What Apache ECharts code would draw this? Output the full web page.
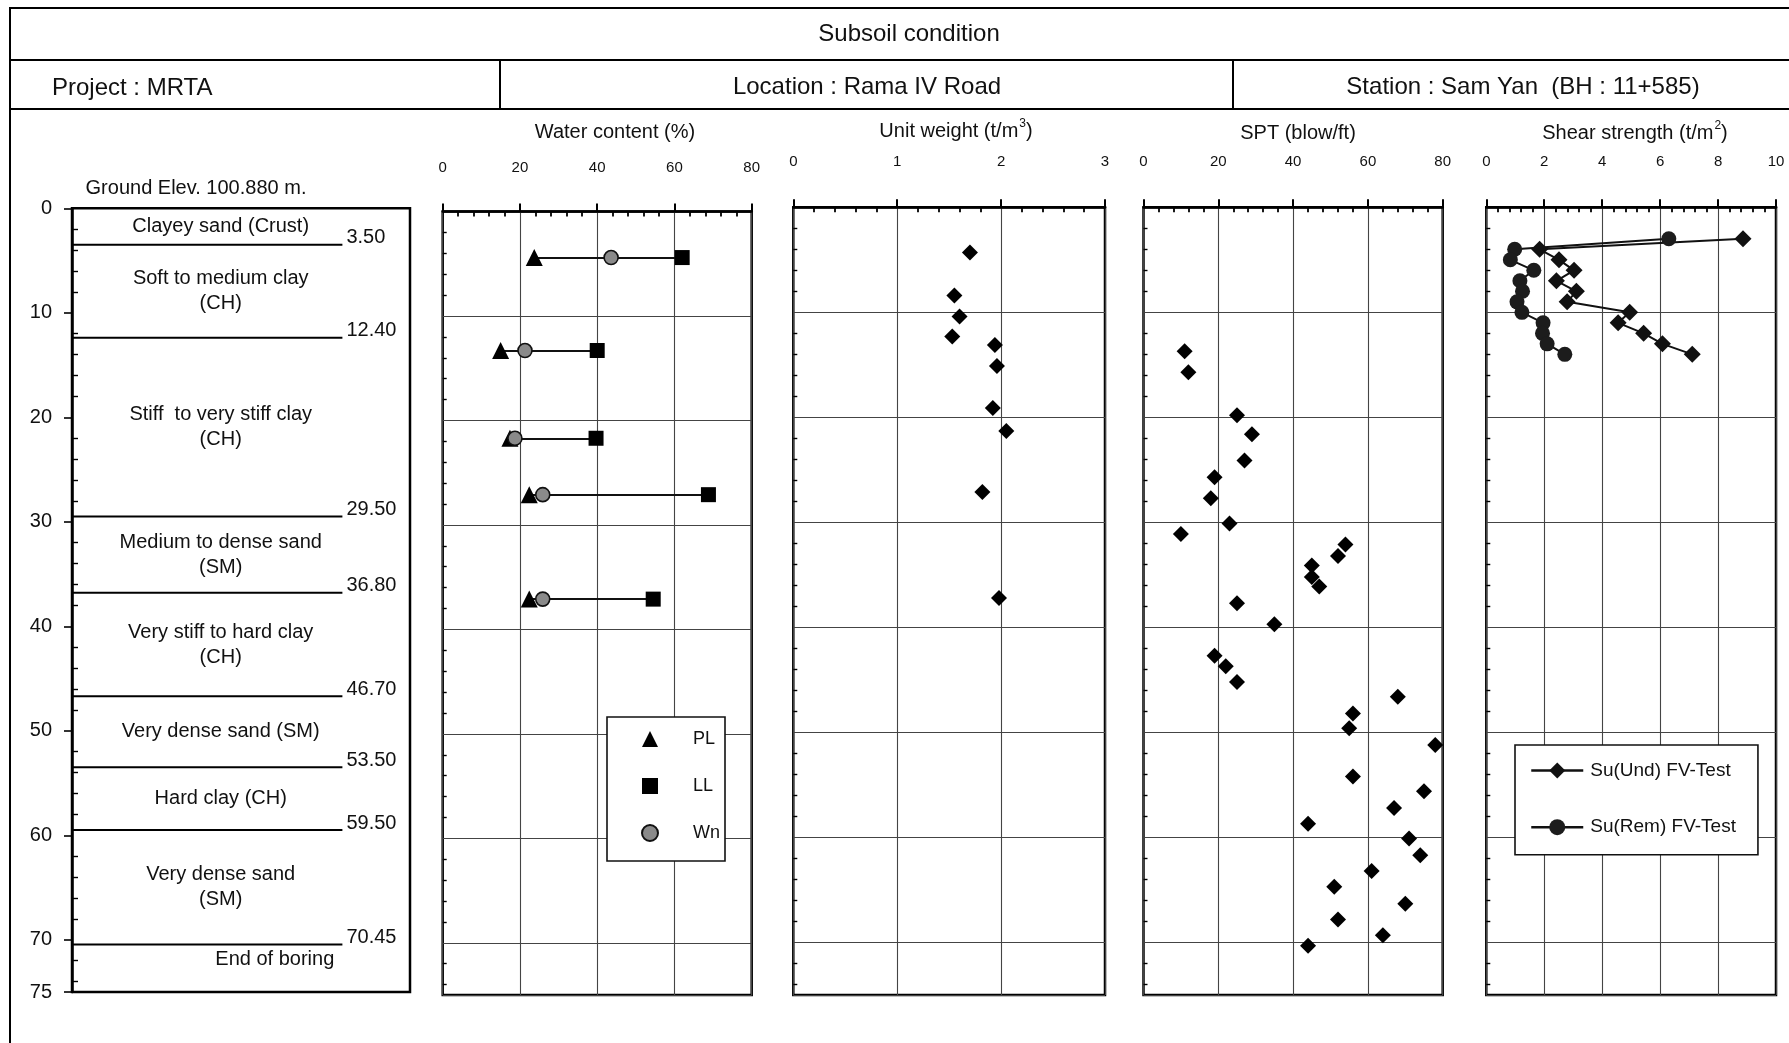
<!DOCTYPE html>
<html>
<head>
<meta charset="utf-8">
<script src="https://cdn.jsdelivr.net/npm/echarts@6/dist/echarts.min.js"></script>
<style>
  html, body { margin: 0; padding: 0; background: #fff; }
  #chart { width: 1789px; height: 1043px; }
</style>
</head>
<body>
<div id="chart"></div>
<script>
// ---- Borehole log (depth in m below ground) ----
const layerBottoms = [3.50, 12.40, 29.50, 36.80, 46.70, 53.50, 59.50, 70.45];
const layerNames = [
  'Clayey sand (Crust)',
  'Soft to medium clay\n(CH)',
  'Stiff  to very stiff clay\n(CH)',
  'Medium to dense sand\n(SM)',
  'Very stiff to hard clay\n(CH)',
  'Very dense sand (SM)',
  'Hard clay (CH)',
  'Very dense sand\n(SM)'
];
const endNote = 'End of boring';

// ---- Water content: plastic limit, liquid limit, natural water content (%) ----
const wcDepth = [4.4, 13.3, 21.7, 27.1, 37.1];
const plasticLimit = [23.7, 15.0, 17.4, 22.4, 22.4];
const liquidLimit = [62.0, 40.0, 39.7, 68.8, 54.5];
const naturalWc = [43.6, 21.3, 18.7, 25.9, 25.9];

// ---- Unit weight (t/m3) ----
const uwDepth = [4.3, 8.4, 10.4, 12.3, 13.1, 15.1, 19.1, 21.3, 27.1, 37.2];
const unitWeight = [1.70, 1.55, 1.60, 1.53, 1.94, 1.96, 1.92, 2.05, 1.82, 1.98];

// ---- SPT N-value (blow/ft) ----
const sptDepth = [13.7, 15.7, 19.8, 21.6, 24.1, 25.7, 27.7, 30.1, 31.1, 32.1, 33.2, 34.1,
  35.2, 36.1, 37.7, 39.7, 42.7, 43.7, 45.2, 46.6, 48.2, 49.6, 51.2, 54.2, 55.6, 57.2,
  58.7, 60.1, 61.7, 63.2, 64.7, 66.3, 67.8, 69.3, 70.3];
const sptN = [11, 12, 25, 29, 27, 19, 18, 23, 10, 54, 52, 45, 45, 47, 25, 35, 19, 22, 25,
  68, 56, 55, 78, 56, 75, 67, 44, 71, 74, 61, 51, 70, 52, 64, 44];

// ---- Field vane shear strength (t/m2) ----
const vaneDepth = [3, 4, 5, 6, 7, 8, 9, 10, 11, 12, 13, 14];
const suUnd = [8.86, 1.84, 2.51, 3.03, 2.42, 3.11, 2.79, 4.95, 4.55, 5.43, 6.08, 7.11];
const suRem = [6.30, 0.98, 0.83, 1.64, 1.16, 1.25, 1.06, 1.23, 1.96, 1.94, 2.10, 2.71];

const FONT = '"Liberation Sans", Arial, Helvetica, sans-serif';
const INK = '#111';
const GRIDLINE = { color: '#444', width: 1.1 };

const chart = echarts.init(document.getElementById('chart'), null, { renderer: 'canvas' });

// Plot panels: borehole column, water content, unit weight, SPT, shear strength
const grids = [
  { left: 72, top: 208.3, width: 338, height: 783.7 },
  { left: 442.7, top: 211.6, width: 309, height: 783.4 },
  { left: 793.3, top: 207.3, width: 311.7, height: 787.7 },
  { left: 1143.5, top: 207.3, width: 299.2, height: 787.7 },
  { left: 1486.3, top: 207.3, width: 289.7, height: 787.7 }
].map(g => Object.assign({ show: true, borderColor: '#000', borderWidth: 2.5, containLabel: false }, g));

function topAxis(gridIndex, max, interval) {
  return {
    gridIndex, type: 'value', position: 'top', min: 0, max, interval,
    axisLine: { show: true, lineStyle: { color: '#000', width: 2.5 } },
    axisTick: { show: true, length: 8, lineStyle: { color: '#000', width: 2 } },
    minorTick: { show: true, splitNumber: 5, length: -5, lineStyle: { color: '#000', width: 1.8 } },
    axisLabel: { show: true, fontSize: 15, fontFamily: FONT, color: INK, margin: gridIndex === 1 ? 36 : 38 },
    splitLine: { show: true, lineStyle: GRIDLINE }
  };
}

function depthAxis(gridIndex) {
  const isLog = gridIndex === 0;
  return {
    gridIndex, type: 'value', inverse: true, min: 0, max: 75, interval: 10,
    axisLine: { show: isLog, lineStyle: { color: '#000', width: 2.5 } },
    axisTick: isLog
      ? { show: true, length: 8, lineStyle: { color: '#000', width: 1.6 } }
      : { show: false, inside: true },
    minorTick: { show: true, splitNumber: 5, length: isLog ? -6 : 4, lineStyle: { color: '#000', width: 1.4 } },
    axisLabel: { show: isLog, fontSize: 20, fontFamily: FONT, color: INK, margin: 20 },
    splitLine: { show: !isLog, lineStyle: GRIDLINE }
  };
}

const xAxes = [
  { gridIndex: 0, type: 'value', min: 0, max: 1, show: false },
  topAxis(1, 80, 20),
  topAxis(2, 3, 1),
  topAxis(3, 80, 20),
  topAxis(4, 10, 2)
];
const yAxes = [0, 1, 2, 3, 4].map(depthAxis);

// Borehole column: layer boundaries, boundary depths and soil descriptions
const layerData = layerBottoms.map((b, i) => [i === 0 ? 0 : layerBottoms[i - 1], b]);
function renderLayer(params, api) {
  const top = api.value(0), bottom = api.value(1);
  const a = api.coord([0, bottom]);
  const b = api.coord([0.8, bottom]);
  const mid = api.coord([0.44, (top + bottom) / 2]);
  const children = [
    { type: 'line', shape: { x1: a[0], y1: a[1], x2: b[0], y2: b[1] },
      style: { stroke: '#000', lineWidth: 2 } },
    { type: 'text', x: b[0] + 4, y: b[1] + 3,
      style: { text: bottom.toFixed(2), fill: INK, font: '20px ' + FONT, align: 'left', verticalAlign: 'bottom' } },
    { type: 'text', x: mid[0], y: mid[1],
      style: { text: layerNames[params.dataIndex], fill: INK, font: '20px ' + FONT,
        align: 'center', verticalAlign: 'middle', lineHeight: 25 } }
  ];
  if (params.dataIndex === layerBottoms.length - 1) {
    const e = api.coord([0.6, bottom + 1.45]);
    children.push({ type: 'text', x: e[0], y: e[1],
      style: { text: endNote, fill: INK, font: '20px ' + FONT, align: 'center', verticalAlign: 'middle' } });
  }
  return { type: 'group', children };
}

const solid = { color: '#000', opacity: 1 };

const series = [
  { type: 'custom', name: 'layers', xAxisIndex: 0, yAxisIndex: 0, renderItem: renderLayer,
    data: layerData, silent: true, clip: false },

  { type: 'lines', coordinateSystem: 'cartesian2d', xAxisIndex: 1, yAxisIndex: 1, z: 2,
    data: wcDepth.map((d, i) => ({ coords: [[plasticLimit[i], d], [liquidLimit[i], d]] })),
    lineStyle: { color: '#111', width: 2, opacity: 1 }, silent: true },
  { type: 'scatter', name: 'PL', xAxisIndex: 1, yAxisIndex: 1, z: 3, symbol: 'triangle', symbolSize: 17,
    itemStyle: solid, data: wcDepth.map((d, i) => [plasticLimit[i], d]) },
  { type: 'scatter', name: 'LL', xAxisIndex: 1, yAxisIndex: 1, z: 3, symbol: 'rect', symbolSize: 15,
    itemStyle: solid, data: wcDepth.map((d, i) => [liquidLimit[i], d]) },
  { type: 'scatter', name: 'Wn', xAxisIndex: 1, yAxisIndex: 1, z: 4, symbol: 'circle', symbolSize: 14,
    itemStyle: { color: '#8a8a8a', borderColor: '#111', borderWidth: 1.6, opacity: 1 },
    data: wcDepth.map((d, i) => [naturalWc[i], d]) },

  { type: 'scatter', name: 'Unit weight', xAxisIndex: 2, yAxisIndex: 2, symbol: 'diamond', symbolSize: 16,
    itemStyle: solid, data: uwDepth.map((d, i) => [unitWeight[i], d]) },

  { type: 'scatter', name: 'SPT', xAxisIndex: 3, yAxisIndex: 3, symbol: 'diamond', symbolSize: 16,
    itemStyle: solid, data: sptDepth.map((d, i) => [sptN[i], d]) },

  { type: 'line', name: 'Su(Und) FV-Test', xAxisIndex: 4, yAxisIndex: 4, symbol: 'diamond', symbolSize: 17,
    showAllSymbol: true, itemStyle: { color: '#111', opacity: 1 }, lineStyle: { color: '#111', width: 2 },
    data: vaneDepth.map((d, i) => [suUnd[i], d]) },
  { type: 'line', name: 'Su(Rem) FV-Test', xAxisIndex: 4, yAxisIndex: 4, symbol: 'circle', symbolSize: 15,
    showAllSymbol: true, itemStyle: { color: '#1c1c1c', opacity: 1 }, lineStyle: { color: '#111', width: 2 },
    data: vaneDepth.map((d, i) => [suRem[i], d]) }
];

function txt(x, y, text, size, align) {
  return {
    type: 'text', x, y, silent: true,
    style: { text, fill: INK, font: size + 'px ' + FONT, align: align || 'center', verticalAlign: 'middle' }
  };
}
function hline(x1, x2, y, w) {
  return { type: 'line', silent: true, shape: { x1, y1: y, x2, y2: y }, style: { stroke: '#000', lineWidth: w || 2 } };
}
function vline(x, y1, y2, w) {
  return { type: 'line', silent: true, shape: { x1: x, y1, x2: x, y2 }, style: { stroke: '#000', lineWidth: w || 2 } };
}
function supTitle(x, y, base, sup) {
  return {
    type: 'text', x, y, silent: true,
    style: {
      text: '{a|' + base + '}{s|' + sup + '}{a|)}',
      align: 'center', verticalAlign: 'middle',
      rich: {
        a: { fontSize: 20, fontFamily: FONT, fill: INK, color: INK },
        s: { fontSize: 12, fontFamily: FONT, fill: INK, color: INK, padding: [0, 0, 15, 1] }
      }
    }
  };
}

const graphic = [
  // sheet frame and header table
  hline(9, 1789, 8),
  hline(9, 1789, 60),
  hline(9, 1789, 109),
  vline(10, 7, 1043),
  vline(500, 60, 109),
  vline(1233, 60, 109),
  txt(909, 34, 'Subsoil condition', 24),
  txt(52, 88, 'Project : MRTA', 24, 'left'),
  txt(867, 87, 'Location : Rama IV Road', 24),
  txt(1523, 87, 'Station : Sam Yan  (BH : 11+585)', 24),
  // panel captions
  txt(196, 188, 'Ground Elev. 100.880 m.', 20),
  txt(615, 132, 'Water content (%)', 20),
  supTitle(956, 131, 'Unit weight (t/m', '3'),
  txt(1298, 133, 'SPT (blow/ft)', 20),
  supTitle(1635, 133, 'Shear strength (t/m', '2')
];

const legends = [
  {
    show: true, orient: 'vertical', left: 607, top: 717, selectedMode: false,
    data: ['PL', 'LL', 'Wn'],
    backgroundColor: '#fff', borderColor: '#111', borderWidth: 1.6,
    padding: [12, 5, 18, 34], itemGap: 27, itemWidth: 16, itemHeight: 16,
    textStyle: { fontSize: 18, fontFamily: FONT, color: INK, lineHeight: 20, padding: [0, 0, 0, 30] }
  },
  {
    show: true, orient: 'vertical', left: 1515, top: 745, selectedMode: false,
    data: ['Su(Und) FV-Test', 'Su(Rem) FV-Test'],
    backgroundColor: '#fff', borderColor: '#111', borderWidth: 1.6,
    padding: [15, 22, 17, 15], itemGap: 35.7, itemWidth: 52, itemHeight: 20,
    lineStyle: { width: 2.5, color: '#111' },
    textStyle: { fontSize: 19, fontFamily: FONT, color: INK, lineHeight: 21, padding: [0, 0, 0, 2] }
  }
];

chart.setOption({
  backgroundColor: '#fff',
  animation: false,
  textStyle: { fontFamily: FONT },
  grid: grids,
  xAxis: xAxes,
  yAxis: yAxes,
  legend: legends,
  series,
  graphic
});
</script>
</body>
</html>
